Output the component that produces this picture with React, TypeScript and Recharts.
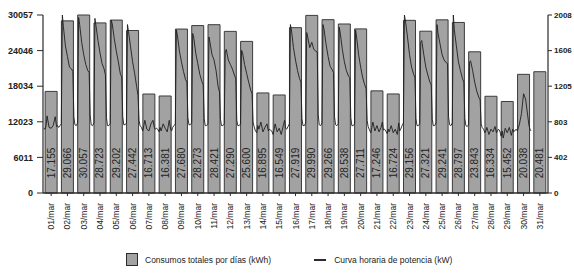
import React from 'react'
import { ComposedChart, Bar, Line, XAxis, YAxis, LabelList } from 'recharts'

// consumo diario (kWh) y curva horaria de potencia (kW), marzo
const DAYS = [
  '01/mar', '02/mar', '03/mar', '04/mar', '05/mar', '06/mar', '07/mar', '08/mar',
  '09/mar', '10/mar', '11/mar', '12/mar', '13/mar', '14/mar', '15/mar', '16/mar',
  '17/mar', '18/mar', '19/mar', '20/mar', '21/mar', '22/mar', '23/mar', '24/mar',
  '25/mar', '26/mar', '27/mar', '28/mar', '29/mar', '30/mar', '31/mar',
]
const CONSUMO = [
  17155, 29066, 30057, 28723, 29202, 27442, 16713, 16381, 27680, 28273, 28421,
  27290, 25600, 16895, 16549, 27919, 29990, 29266, 28538, 27711, 17246, 16724,
  29156, 27321, 29241, 28797, 23843, 16334, 15452, 20038, 20481,
]
const LEFT_TICKS = [0, 6011, 12023, 18034, 24046, 30057]
const RIGHT_TICKS = [0, 402, 803, 1205, 1606, 2008]

// horas del día en las que se leen los puntos de la curva
const HOURS = [1, 3, 4.5, 6, 9, 12, 15, 18, 20, 21.5, 23]
// kW por día (1..30)
const POTENCIA = [
  [730, 720, 760, 870, 740, 730, 760, 860, 750, 760, 740],
  [760, 780, 2010, 1880, 1660, 1540, 1420, 1400, 1370, 860, 770],
  [760, 790, 1980, 1900, 1700, 1560, 1450, 1380, 1360, 880, 770],
  [760, 790, 1970, 1890, 1720, 1580, 1460, 1400, 1330, 850, 760],
  [760, 780, 1950, 1910, 1740, 1600, 1480, 1340, 1310, 860, 770],
  [770, 790, 1900, 1820, 1650, 1480, 1350, 1200, 1100, 820, 760],
  [740, 700, 760, 820, 720, 700, 780, 820, 740, 720, 730],
  [720, 690, 740, 700, 780, 730, 690, 820, 720, 700, 740],
  [760, 780, 1840, 1780, 1600, 1480, 1370, 1280, 1250, 850, 770],
  [770, 790, 1800, 1760, 1580, 1460, 1340, 1260, 1220, 840, 760],
  [760, 780, 1760, 1700, 1560, 1500, 1380, 1200, 1140, 830, 760],
  [760, 780, 1590, 1620, 1500, 1450, 1400, 1330, 1290, 820, 760],
  [760, 780, 1610, 1580, 1450, 1350, 1250, 1160, 1120, 800, 750],
  [700, 680, 760, 720, 800, 690, 740, 780, 700, 720, 710],
  [700, 660, 720, 780, 690, 730, 660, 760, 820, 730, 720],
  [750, 780, 1900, 1840, 1640, 1500, 1380, 1290, 1250, 840, 760],
  [760, 790, 1810, 1760, 1640, 1700, 1620, 1600, 1590, 880, 770],
  [760, 790, 1900, 1850, 1680, 1540, 1430, 1390, 1360, 860, 770],
  [760, 780, 1870, 1800, 1620, 1480, 1380, 1320, 1300, 850, 760],
  [760, 780, 1840, 1760, 1560, 1420, 1300, 1220, 1180, 820, 750],
  [710, 680, 740, 800, 700, 760, 690, 740, 800, 710, 720],
  [700, 670, 720, 690, 760, 680, 720, 660, 790, 700, 720],
  [760, 790, 2008, 1940, 1760, 1560, 1420, 1340, 1300, 840, 760],
  [760, 780, 1700, 1720, 1560, 1420, 1330, 1250, 1220, 830, 760],
  [760, 790, 1900, 1800, 1680, 1560, 1500, 1470, 1460, 860, 770],
  [760, 790, 2008, 1840, 1660, 1480, 1380, 1290, 1250, 840, 760],
  [750, 770, 1480, 1490, 1380, 1250, 1150, 1080, 1050, 780, 740],
  [720, 680, 700, 740, 660, 720, 690, 750, 680, 700, 720],
  [700, 640, 700, 620, 730, 680, 740, 650, 720, 690, 700],
  [720, 700, 740, 780, 900, 1120, 1060, 880, 760, 720, 700],
]

const FONT = '"Liberation Sans", Arial, sans-serif'
const BAR_FILL = '#a2a2a2'
const DARK = '#2b2b2b'

const barData = DAYS.map((day, i) => ({ day, kwh: CONSUMO[i] }))
const lineData = POTENCIA.flatMap((vals, d) =>
  vals.map((kw, i) => ({ h: d * 24 + HOURS[i], kw }))
)

const fmt = (v: number) => String(v).replace(/\B(?=(\d{3})+(?!\d))/g, '.')

function DayTick({ x, y, payload }: any) {
  return (
    <text
      x={x}
      y={y + 5}
      transform={`rotate(-90, ${x}, ${y + 5})`}
      textAnchor="end"
      dominantBaseline="central"
      fontSize={8.5}
      fontFamily={FONT}
      fill="#222"
    >
      {payload.value}
    </text>
  )
}

function ValueLabel({ x, width, value }: any) {
  const cx = x + width / 2
  const cy = 163
  return (
    <text
      x={cx}
      y={cy}
      transform={`rotate(-90, ${cx}, ${cy})`}
      textAnchor="middle"
      dominantBaseline="central"
      fontSize={10}
      fontFamily={FONT}
      fill="#222"
    >
      {fmt(value)}
    </text>
  )
}

export default function App() {
  return (
    <div style={{ position: 'absolute', left: 0, top: 0, width: 574, height: 279, background: '#fff' }}>
      <ComposedChart
        width={574}
        height={279}
        data={barData}
        margin={{ top: 15, right: 0, left: 3, bottom: 41 }}
        barCategoryGap="13%"
      >
        <XAxis
          xAxisId="d"
          dataKey="day"
          interval={0}
          height={45}
          tick={<DayTick />}
          tickSize={3}
          tickLine={{ stroke: DARK }}
          axisLine={{ stroke: DARK, strokeWidth: 1.6 }}
        />
        <XAxis xAxisId="h" dataKey="h" type="number" domain={[0, 744]} allowDataOverflow hide />
        <YAxis
          yAxisId="left"
          width={40}
          domain={[0, 30057]}
          ticks={LEFT_TICKS}
          interval={0}
          tickSize={6}
          tickMargin={4}
          tick={{ fontSize: 9, fontWeight: 'bold', fill: '#222', fontFamily: FONT }}
          tickLine={{ stroke: DARK }}
          axisLine={{ stroke: DARK, strokeWidth: 1.2 }}
        />
        <YAxis
          yAxisId="right"
          orientation="right"
          width={26}
          domain={[0, 2008]}
          allowDataOverflow
          ticks={RIGHT_TICKS}
          interval={0}
          tickSize={4}
          tickMargin={2}
          tick={{ fontSize: 8, fontWeight: 'bold', fill: '#222', fontFamily: FONT, textAnchor: 'start' }}
          tickLine={{ stroke: DARK }}
          axisLine={{ stroke: DARK, strokeWidth: 1.2 }}
        />
        <Bar
          xAxisId="d"
          yAxisId="left"
          dataKey="kwh"
          fill={BAR_FILL}
          stroke="#3c3c3c"
          strokeWidth={1}
          isAnimationActive={false}
        >
          <LabelList dataKey="kwh" content={<ValueLabel />} />
        </Bar>
        <Line
          xAxisId="h"
          yAxisId="right"
          data={lineData}
          dataKey="kw"
          type="linear"
          stroke="#1e1e1e"
          strokeWidth={0.9}
          dot={false}
          activeDot={false}
          isAnimationActive={false}
        />
      </ComposedChart>
      <div
        style={{
          position: 'absolute',
          top: 253,
          left: 126,
          display: 'flex',
          alignItems: 'center',
          fontFamily: FONT,
          fontSize: 8.5,
          color: '#222',
          whiteSpace: 'nowrap',
        }}
      >
        <span style={{ display: 'inline-block', width: 10, height: 11, background: BAR_FILL, border: `1.5px solid ${DARK}` }} />
        <span style={{ marginLeft: 7 }}>Consumos totales por días (kWh)</span>
        <span style={{ display: 'inline-block', width: 12, height: 2, background: DARK, marginLeft: 43 }} />
        <span style={{ marginLeft: 8 }}>Curva horaria de potencia (kW)</span>
      </div>
    </div>
  )
}
